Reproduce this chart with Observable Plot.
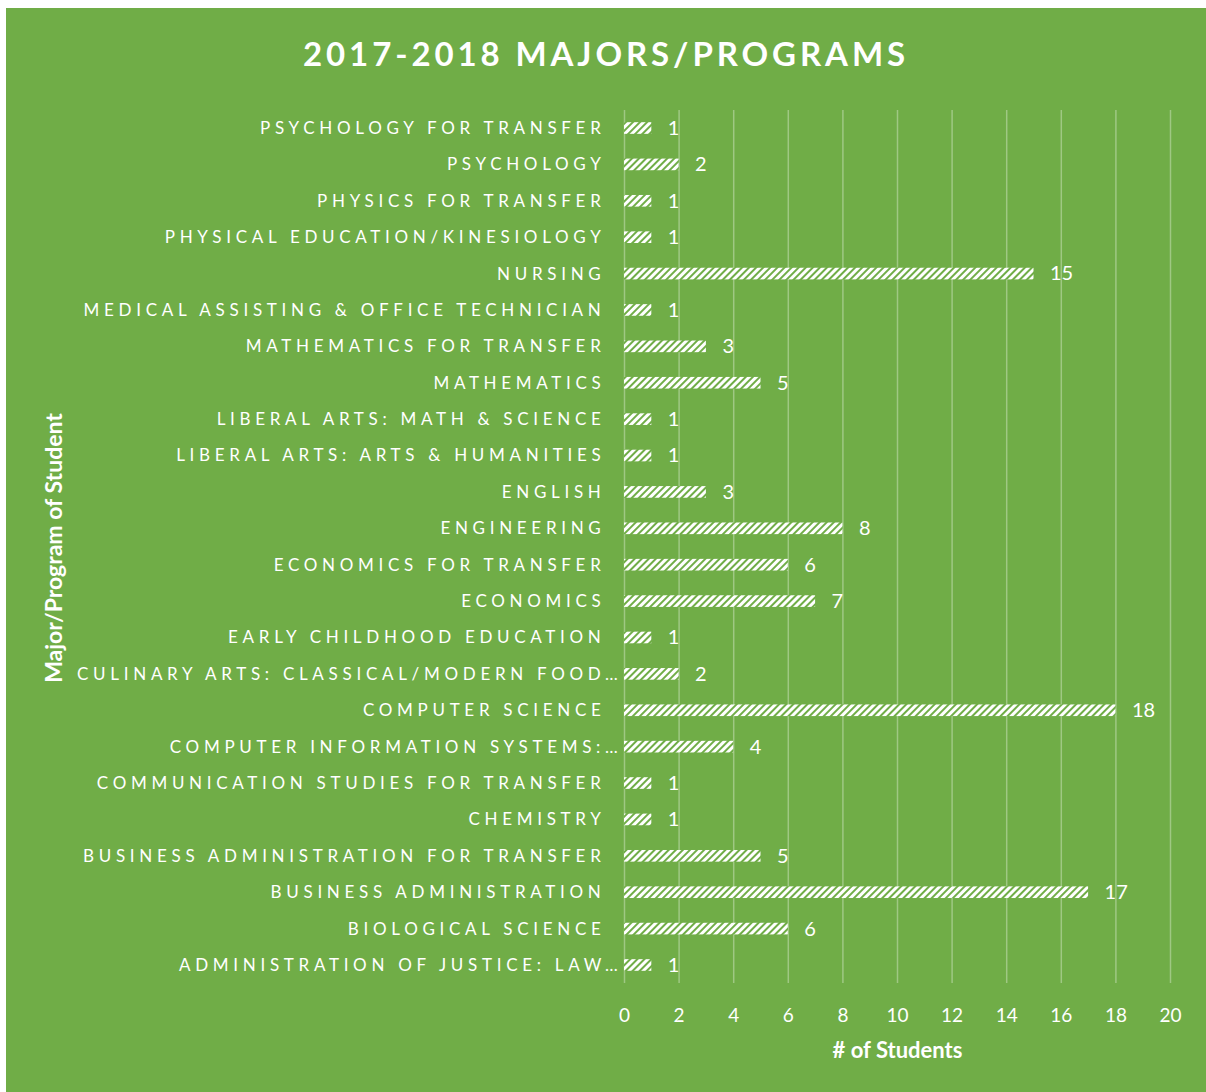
<!DOCTYPE html>
<html>
<head>
<meta charset="utf-8">
<script src="https://cdn.jsdelivr.net/npm/d3@7"></script>
<script src="https://cdn.jsdelivr.net/npm/@observablehq/plot@0.6"></script>
<style>
  html, body { margin: 0; padding: 0; background: #ffffff; }
  #frame { position: absolute; left: 6px; top: 8px; width: 1200px; height: 1084px; background: #70AD47; overflow: hidden; }
  #title { margin: 0; height: 82px; line-height: 90px; text-align: center; color: #ffffff; font-family: Lato, "Open Sans", sans-serif; font-weight: 700; font-size: 33px; letter-spacing: 3.9px; }
  #chart svg { display: block; }
</style>
</head>
<body>
<div id="frame">
  <h2 id="title">2017-2018 MAJORS/PROGRAMS</h2>
  <div id="chart"></div>
</div>
<script>
const majors = [
  "PSYCHOLOGY FOR TRANSFER",
  "PSYCHOLOGY",
  "PHYSICS FOR TRANSFER",
  "PHYSICAL EDUCATION/KINESIOLOGY",
  "NURSING",
  "MEDICAL ASSISTING & OFFICE TECHNICIAN",
  "MATHEMATICS FOR TRANSFER",
  "MATHEMATICS",
  "LIBERAL ARTS: MATH & SCIENCE",
  "LIBERAL ARTS: ARTS & HUMANITIES",
  "ENGLISH",
  "ENGINEERING",
  "ECONOMICS FOR TRANSFER",
  "ECONOMICS",
  "EARLY CHILDHOOD EDUCATION",
  "CULINARY ARTS: CLASSICAL/MODERN FOOD…",
  "COMPUTER SCIENCE",
  "COMPUTER INFORMATION SYSTEMS:…",
  "COMMUNICATION STUDIES FOR TRANSFER",
  "CHEMISTRY",
  "BUSINESS ADMINISTRATION FOR TRANSFER",
  "BUSINESS ADMINISTRATION",
  "BIOLOGICAL SCIENCE",
  "ADMINISTRATION OF JUSTICE: LAW…"
];
const students = [1, 2, 1, 1, 15, 1, 3, 5, 1, 1, 3, 8, 6, 7, 1, 2, 18, 4, 1, 1, 5, 17, 6, 1];
const xTicks = [0, 2, 4, 6, 8, 10, 12, 14, 16, 18, 20];

const data = majors.map((m, i) => ({major: m, value: students[i]}));

const chart = Plot.plot({
  width: 1200,
  height: 1002,
  marginLeft: 618,
  marginRight: 36,
  marginTop: 20,
  marginBottom: 109,
  style: {background: "transparent", color: "#ffffff", fontFamily: "Lato, 'Open Sans', sans-serif"},
  x: {domain: [0, 20], ticks: xTicks, label: null},
  y: {domain: majors, paddingInner: 0.68, paddingOuter: 0.335, round: false, label: null},
  marks: [
    Plot.ruleX(xTicks, {stroke: "#ffffff", strokeOpacity: 0.33, strokeWidth: 1.5}),
    Plot.barX(data, {x: "value", y: "major", fill: "url(#hatch)"}),
    Plot.text(data, {x: "value", y: "major", text: d => String(d.value), textAnchor: "start", dx: 16, fill: "#ffffff", fontSize: 20}),
    Plot.axisX({ticks: xTicks, tickSize: 0, tickPadding: 25, fontSize: 19, label: null, anchor: "bottom"}),
    Plot.axisY({tickSize: 0, tickPadding: 19, fontSize: 17, label: null, anchor: "left"}),
    Plot.text(["# of Students"], {frameAnchor: "bottom", dy: 74, fontSize: 22, fontWeight: "bold", fill: "#ffffff"})
  ]
});

// hatch pattern
const ns = "http://www.w3.org/2000/svg";
const defs = document.createElementNS(ns, "defs");
defs.innerHTML = `<pattern id="hatch" patternUnits="userSpaceOnUse" width="5" height="5" patternTransform="rotate(45)">
  <rect width="5" height="5" fill="#ffffff"/>
  <rect width="2" height="5" fill="#70AD47"/>
</pattern>`;
chart.insertBefore(defs, chart.firstChild);

// letter spacing for category labels; truncated labels sit closer to the axis
d3.select(chart).selectAll("g[aria-label='y-axis tick label'] text")
  .style("letter-spacing", "4.7px")
  .each(function() {
    if (this.textContent.endsWith("…")) this.setAttribute("dx", "17");
  });

document.getElementById("chart").appendChild(chart);

// rotated y-axis title
const svg = d3.select(chart);
svg.append("text")
  .attr("transform", "translate(50, 458) rotate(-90)")
  .attr("text-anchor", "middle")
  .attr("dominant-baseline", "middle")
  .attr("fill", "#ffffff")
  .attr("font-family", "Lato, 'Open Sans', sans-serif")
  .attr("font-weight", "bold")
  .attr("font-size", 23)
  .text("Major/Program of Student");
</script>
</body>
</html>
